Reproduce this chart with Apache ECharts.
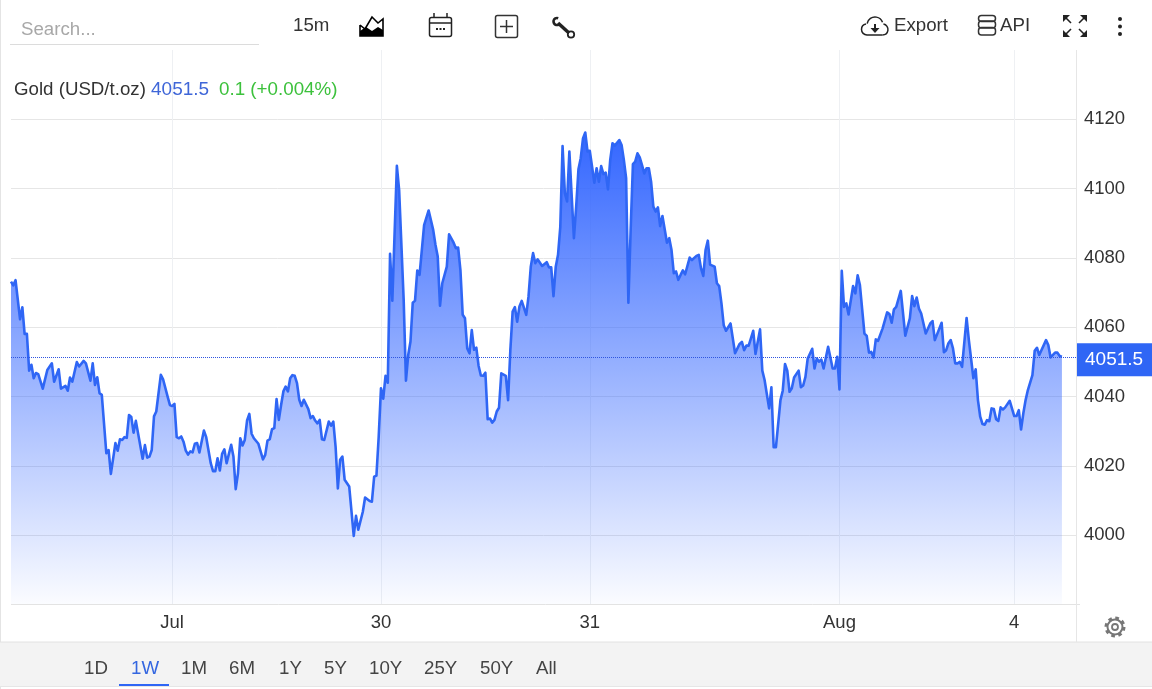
<!DOCTYPE html>
<html>
<head>
<meta charset="utf-8">
<style>html,body{margin:0;padding:0;background:#fff}#c{width:1152px;height:689px}</style>
<script src="https://cdn.jsdelivr.net/npm/echarts@6/dist/echarts.min.js"></script>
</head>
<body>
<div id="c"></div>
<script>
// 15-minute bar number (from the left edge of the view) of each traced turning point
const bars = [0,1,2,4,5,6,7,8,9,10,11,12,14,16,18,19,21,22,24,25,26,27,29,30,32,33,35,36,37,38,39,40,42,43,44,46,47,48,49,50,51,52,53,54,55,58,59,60,61,62,63,64,66,67,69,70,71,72,73,74,75,76,77,78,79,80,81,82,83,85,86,88,89,90,91,92,93,94,95,97,98,99,100,101,102,103,104,105,106,107,109,111,112,113,114,115,116,117,118,119,120,121,122,123,124,125,126,127,128,129,131,132,133,134,135,136,137,138,140,141,142,143,144,145,146,147,149,151,152,153,
155,156,158,159,160,161,162,163,164,165,166,167,168,170,171,173,174,175,176,177,178,179,180,182,184,186,187,188,189,190,192,193,195,196,197,198,199,200,201,202,203,204,205,206,207,208,209,210,211,212,213,214,215,216,218,219,220,221,222,223,224,225,227,228,229,230,231,232,234,236,237,238,239,240,241,242,243,244,245,246,248,249,250,251,252,253,254,255,257,258,259,260,261,262,263,264,265,266,268,269,270,271,272,273,274,275,276,277,278,279,280,281,282,283,284,285,286,287,289,290,291,292,293,294,295,296,297,299,300,302,303,
304,305,306,307,308,310,311,312,313,314,315,317,319,321,322,323,324,325,327,328,330,331,332,334,335,336,337,339,340,341,342,343,344,345,347,348,349,350,351,353,354,355,356,357,358,360,362,363,364,365,366,367,368,369,371,372,373,374,376,377,378,379,380,381,382,384,386,387,388,389,390,392,394,396,397,398,399,400,401,403,405,406,407,410,411,412,413,414,415,416,417,418,419,421,422,424,425,426,427,428,429,430,431,432,433,434,435,436,437,438,440,442,443,444,445,446,447,448,450,451,452,453,456,457,458,460,461,462,463];
const prices = [4073.2,4072.1,4073.6,4062.3,4065.8,4058.1,4058.1,4047.5,4049.2,4045.3,4046.8,4046.5,4042.3,4047.7,4049.6,4044.3,4047.9,4042.3,4043.1,4041.7,4045.5,4044.3,4050.0,4048.7,4050.3,4049.6,4044.6,4049.6,4043.4,4045.6,4041.0,4040.5,4023.7,4024.6,4017.7,4026.6,4024.4,4027.7,4027.5,4028.3,4028.1,4034.7,4034.1,4029.6,4033.0,4022.1,4026.0,4022.4,4022.7,4024.6,4034.3,4035.7,4046.3,4045.0,4040.0,4037.6,4037.3,4037.9,4028.3,4028.0,4028.5,4027.0,4024.4,4023.3,4024.2,4023.9,4026.4,4026.6,4023.9,4030.2,4028.3,4020.8,4018.5,4018.5,4022.2,4018.7,4023.5,4024.8,4020.8,4026.1,4022.7,4013.3,4017.9,4028.0,4025.9,4027.5,4033.1,4035.0,4029.3,4028.0,4026.4,4021.9,4023.2,4027.3,4027.7,4030.6,4030.9,4039.3,4033.3,4037.6,4041.5,4042.9,4041.5,4045.3,4046.2,4046.0,4043.9,4039.1,4037.3,4039.1,4036.4,4033.8,4034.4,4033.1,4032.3,4033.3,4027.7,4027.5,4032.8,4031.6,4032.8,4025.6,4013.5,4021.8,4022.7,4016.0,4014.1,3999.8,4005.6,4001.6,
4006.8,4010.9,4009.9,4009.7,4016.9,4017.2,4028.5,4042.4,4039.4,4046.0,4044.0,4081.2,4067.7,4106.6,4099.6,4067.9,4044.6,4052.0,4055.9,4067.1,4067.7,4076.4,4075.1,4089.5,4093.7,4088.1,4083.8,4080.4,4066.2,4072.7,4077.5,4086.8,4084.4,4082.8,4083.0,4076.5,4063.6,4062.6,4053.9,4052.5,4059.2,4053.5,4054.1,4048.9,4046.1,4046.0,4046.9,4033.5,4033.7,4032.5,4033.3,4035.7,4036.8,4046.7,4046.0,4039.0,4053.5,4064.5,4065.8,4061.6,4066.0,4067.6,4063.6,4068.9,4077.5,4081.4,4078.5,4079.6,4077.7,4078.8,4077.3,4077.3,4069.0,4077.5,4080.9,4089.0,4112.3,4098.7,4096.3,4110.7,4085.7,4094.8,4105.6,4108.8,4114.5,4116.2,4110.7,4110.9,4101.7,4105.9,4102.0,4106.5,4104.2,4104.6,4099.8,4108.3,4113.1,4112.4,4114.0,4112.6,4108.3,4103.0,4067.1,4088.1,4107.1,4107.8,4110.2,4109.0,4106.8,4104.4,4105.9,4105.9,4102.0,4094.8,4093.4,4094.6,4089.2,4092.1,4084.4,4085.7,4082.3,4075.6,4076.1,4073.7,4075.1,4076.4,4075.3,4080.1,4079.4,4080.6,4080.9,
4077.0,4074.8,4082.3,4085.0,4078.1,4077.5,4072.7,4071.9,4066.9,4060.6,4059.0,4061.1,4052.5,4055.2,4055.8,4053.4,4054.7,4054.7,4059.0,4052.3,4059.4,4047.5,4044.8,4036.6,4042.7,4025.4,4025.4,4039.0,4041.7,4049.4,4047.5,4041.4,4042.4,4045.5,4047.5,4042.7,4043.2,4045.7,4051.0,4053.8,4048.1,4051.0,4050.1,4050.7,4048.1,4054.4,4048.1,4048.1,4051.5,4042.1,4076.3,4065.9,4066.9,4063.7,4071.9,4069.8,4075.0,4072.2,4058.2,4057.5,4052.7,4052.9,4051.3,4056.5,4056.1,4059.7,4064.3,4063.8,4061.3,4065.2,4065.9,4070.5,4057.6,4062.6,4069.0,4066.1,4068.6,4065.4,4064.0,4058.2,4061.1,4061.8,4056.3,4061.3,4052.8,4053.4,4055.4,4056.3,4053.9,4049.6,4049.6,4050.0,4048.6,4062.7,4056.3,4045.3,4047.9,4039.0,4034.2,4032.1,4031.9,4033.2,4032.9,4036.6,4036.4,4033.5,4033.0,4036.9,4036.3,4036.9,4038.8,4034.4,4034.4,4036.1,4030.5,4035.2,4039.0,4041.9,4046.2,4053.2,4054.1,4052.0,4056.3,4054.9,4051.3,4052.7,4052.7,4051.7,4051.5];
const xTickBars = [71,163,255,365,442];
const xTickLabels = ['Jul','30','31','Aug','4'];
const yMin = 3980, yMax = 4140, yStep = 20;
const lastPrice = 4051.5;
const seriesName = 'Gold (USD/t.oz)';
const priceText = '4051.5';
const changeText = '0.1 (+0.004%)';
const rangeLabels = ['1D','1W','1M','6M','1Y','5Y','10Y','25Y','50Y','All'];
const rangeX = [84,131,181,229,279,324,369,424,480,536];
const BLUE = '#2f66f5', FONT = '"Liberation Sans", Arial, sans-serif', INK = '#222', TS = 18.7;

const points = bars.map((b, i) => [b, prices[i]]);

function text(x, y, t, fill, size, align) {
  return {type:'text', silent:true, z:20, style:{x, y, text:t, fill:fill||'#333', fontSize:size||TS, fontFamily:FONT, textVerticalAlign:'middle', textAlign:align||'left'}};
}
function stroke(c, w) { return {stroke:c||INK, lineWidth:w||1.5, fill:'none'}; }
function line(x1,y1,x2,y2,c,w){ return {type:'line', silent:true, z:20, shape:{x1,y1,x2,y2}, style:stroke(c,w)}; }
function poly(pts,c,w){ return {type:'polyline', silent:true, z:20, shape:{points:pts}, style:stroke(c,w)}; }
function fillPoly(pts,c){ return {type:'polygon', silent:true, z:20, shape:{points:pts}, style:{fill:c||INK}}; }
function box(x,y,w,h,r,st){ return {type:'rect', silent:true, z:20, shape:{x,y,width:w,height:h,r:r||0}, style:st}; }
function circ(cx,cy,r,st){ return {type:'circle', silent:true, z:20, shape:{cx,cy,r}, style:st}; }
function arc(cx,cy,r,a,b,c,w){ return {type:'arc', silent:true, z:20, shape:{cx,cy,r,startAngle:a*Math.PI/180,endAngle:b*Math.PI/180}, style:stroke(c,w)}; }

const ui = [
  box(0,0,1,689,0,{fill:'#e4e4e4'}),
  box(0,642,1152,44,0,{fill:'#f3f3f3'}),
  line(0,642,1152,642,'#e2e2e2',1),
  line(0,686.5,1152,686.5,'#e6e6e6',1),
  line(10,44.5,259,44.5,'#dcdcdc',1),
  text(21,29.5,'Search...','#a8a8a8'),
  text(293,25.5,'15m','#333'),
  // chart type icon
  fillPoly([[360,36],[360,31],[366,27],[372,31],[378,27],[383,30],[383,36]],'#000'),
  poly([[360,25],[365,29],[372,17],[378,23],[383,19],[383,36],[360,36],[360,25]],'#000',1.6),
  // calendar
  box(429.5,17.5,22,19,2,stroke('#222',1.5)),
  line(429.5,23,451.5,23,'#222',1.5),
  line(434,13,434,17,'#222',1.5), line(447,13,447,17,'#222',1.5),
  box(436,28,2,2,0,{fill:'#222'}), box(439.5,28,2,2,0,{fill:'#222'}), box(443,28,2,2,0,{fill:'#222'}),
  // plus box
  box(495.5,15.5,22,22,2,stroke('#333',1.5)),
  line(506.5,20,506.5,33,'#333',1.5), line(500,26.5,513,26.5,'#333',1.5),
  // wrench
  line(558,23,569,33,'#222',3.5),
  circ(571,34.5,3.2,stroke('#222',1.8)),
  arc(557,21.5,3.5,60,290,'#222',2.6),
  // export
  arc(867,29.5,5.5,90,260,'#222',1.5),
  arc(875,25,8,190,340,'#222',1.5),
  arc(882.5,29.5,5.5,280,90,'#222',1.5),
  line(867,35,882.5,35,'#222',1.5),
  line(875,24,875,29,'#222',2),
  fillPoly([[870.5,28],[879.5,28],[875,33]],'#222'),
  text(894,25.5,'Export','#333'),
  // api
  box(978.5,15.5,17,6,3,stroke('#333',1.5)),
  box(978.5,21,17,7,3,stroke('#333',1.5)),
  box(978.5,27.5,17,7.5,3,stroke('#333',1.5)),
  text(1000,25.5,'API','#333'),
  // fullscreen
  fillPoly([[1063,15],[1070,15],[1063,22]],INK), line(1065,17,1071,23,INK,1.6),
  fillPoly([[1087,15],[1080,15],[1087,22]],INK), line(1085,17,1079,23,INK,1.6),
  fillPoly([[1063,37],[1070,37],[1063,30]],INK), line(1065,35,1071,29,INK,1.6),
  fillPoly([[1087,37],[1080,37],[1087,30]],INK), line(1085,35,1079,29,INK,1.6),
  // menu
  circ(1120,19,2,{fill:INK}), circ(1120,26.5,2,{fill:INK}), circ(1120,34,2,{fill:INK}),
  // legend
  text(14,89.5,seriesName,'#333',18.7),
  text(151,89.5,priceText,'#3f66d8',19),
  text(219,89.5,changeText,'#3cc13c',18.8),
  // axis extensions
  line(11,604.5,1080,604.5,'#e3e3e3',1),
  line(1076.5,50,1076.5,642,'#e6e6e6',1),
  // gear
  circ(1115,627,7.5,stroke('#777',2)),
  circ(1115,627,9,{stroke:'#777',lineWidth:3,fill:'none',lineDash:[3.6,3.47]}),
  circ(1115,627,3,stroke('#777',1.8)),
  // range bar
  box(119,684,50,2,0,{fill:BLUE})
].concat(rangeLabels.map((t,i)=>text(rangeX[i],668.5,t,t==='1W'?'#3366e0':'#444')));

const chart = echarts.init(document.getElementById('c'), null, {renderer:'canvas'});
chart.setOption({
  animation:false,
  backgroundColor:'#fff',
  grid:{left:11, right:76, top:50, bottom:84.4, containLabel:false},
  xAxis:{
    type:'value', min:0, max:469.2, 
    axisLine:{show:false}, axisTick:{show:false, customValues:xTickBars},
    axisLabel:{customValues:xTickBars, formatter:v=>xTickLabels[xTickBars.indexOf(v)]||'', color:'#333', fontSize:18.5, fontFamily:FONT, margin:9, hideOverlap:false},
    splitLine:{show:true, lineStyle:{color:'#eef0f3', width:1}}
  },
  yAxis:{
    type:'value', position:'right', min:yMin, max:yMax, interval:yStep,
    axisLine:{show:false}, axisTick:{show:false},
    axisLabel:{color:'#333', fontSize:18.5, fontFamily:FONT, margin:8, showMinLabel:false, showMaxLabel:false, formatter:v=>String(v)},
    splitLine:{show:true, showMinLine:false, showMaxLine:false, lineStyle:{color:'#e6e6e6', width:1}}
  },
  graphic:{elements:ui},
  series:[{
    type:'line', name:seriesName, data:points, symbol:'none', smooth:false, clip:true,
    lineStyle:{color:BLUE, width:2.6, join:'round'},
    areaStyle:{origin:'start', opacity:1, color:new echarts.graphic.LinearGradient(0,0,0,1,[
      {offset:0,color:'rgba(51,102,255,1)'},{offset:1,color:'rgba(51,102,255,0.02)'}])},
    markLine:{
      silent:true, symbol:'none', animation:false,
      lineStyle:{color:'#2f55e0', type:'dotted', width:1},
      label:{show:true, position:'end', formatter:priceText, color:'#fff', fontSize:19, fontFamily:FONT,
        backgroundColor:BLUE, width:57, height:33, lineHeight:33, padding:[0,10,0,9], distance:0, offset:[0,3], align:'left'},
      data:[{yAxis:lastPrice}]
    }
  }]
});
</script>
</body>
</html>
